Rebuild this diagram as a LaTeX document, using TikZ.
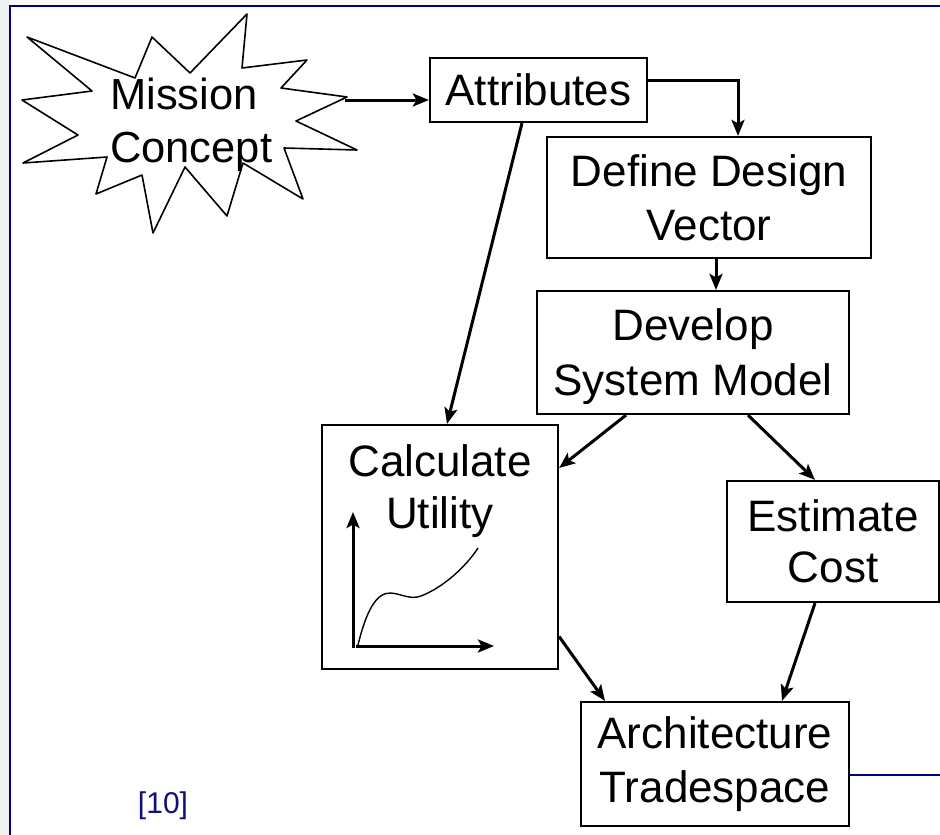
\documentclass[tikz,border=0pt]{standalone}
\usepackage{fontspec}
\setmainfont{Liberation Sans}
\usetikzlibrary{arrows.meta}
\definecolor{navy}{RGB}{0,0,128}
\definecolor{refblue}{RGB}{16,16,120}

\begin{document}
\begin{tikzpicture}[x=1pt,y=-1pt,
  boxline/.style={draw=black, line width=2.2pt, rectangle, inner sep=0pt,
    font=\fontsize{44}{52}\selectfont},
  box/.style={boxline, align=center},
  arr/.style={line width=3pt, -{Stealth[length=16pt,width=13pt,inset=3.5pt]}},
  burst/.style={draw=black, fill=white, line width=1.6pt, line join=round},
  frame/.style={navy, line width=2pt}]

% page, side strip and slide frame
\useasboundingbox (0,0) rectangle (940,835);
\fill[white] (0,0) rectangle (940,835);
\fill[gray!12] (0,0) rectangle (9,835);
\fill[gray!5] (9,0) rectangle (940,5);
\draw[frame, line join=miter] (10,835) -- (10,6) -- (940,6);

% mission concept starburst
\draw[burst] (27,37) -- (135,78) -- (152,37) -- (190,73) -- (247,14) -- (242,68)
  -- (307,60) -- (281,88) -- (347,97) -- (296,121) -- (357,150) -- (284,148)
  -- (303,199) -- (243,163) -- (227,216) -- (185,167) -- (153,233) -- (142,175)
  -- (96,194) -- (107,157) -- (23,163) -- (78,135) -- (22,100) -- (92,91) -- cycle;
\node[font=\fontsize{43.5}{53}\selectfont, align=left, inner sep=0pt, anchor=west]
  (mc) at (110,125) {Mission\\Concept};
\coordinate (mctip) at (345,100);

% process boxes
\node[box, minimum width=217pt, minimum height=64pt] (attr) at (538.5,90) {Attributes};
\node[box, minimum width=324pt, minimum height=121pt, font=\fontsize{44}{54}\selectfont]
  (ddv) at (709,197.5) {Define Design\\Vector};
\node[box, minimum width=312pt, minimum height=123pt, font=\fontsize{44}{55}\selectfont]
  (dsm) at (693,352.5) {Develop\\\smash{System Model}};
\node[boxline, minimum width=236pt, minimum height=244pt] (cu) at (440,547)
  {\begin{minipage}[c][244pt][t]{236pt}\centering\rule{0pt}{51pt}Calculate\\Utility\end{minipage}};
\node[box, minimum width=212pt, minimum height=121pt, font=\fontsize{44}{51}\selectfont]
  (ec) at (833,541.5) {Estimate\\Cost};
\node[box, minimum width=268pt, minimum height=124pt, font=\fontsize{44}{54}\selectfont]
  (at) at (715,764) {Architecture\\Tradespace};

% small utility plot inside the utility box
\draw[arr] (353,648) -- (353,512);
\draw[arr] (356,646) -- (494,646);
\draw[line width=1.4pt] (358,645) .. controls (366,612) and (376,592) .. (391,593)
  .. controls (402,594) and (410,600) .. (421,596)
  .. controls (442,588) and (465,568) .. (478,548);

% connectors
\draw[arr] (mctip) -- (attr.west |- mctip);
\draw[arr] ([yshift=10pt]attr.east) -| ([xshift=29pt]ddv.north);
\draw[arr] (ddv.south -| 716,0) -- (dsm.north -| 716,0);
\draw[arr] ([xshift=-16.5pt]attr.south) -- ([xshift=7pt]cu.north);
\draw[arr] ([xshift=-67pt]dsm.south) -- ([yshift=79pt]cu.east);
\draw[arr] ([xshift=55pt]dsm.south) -- ([xshift=-18pt]ec.north);
\draw[arr] ([yshift=-89.5pt]cu.east) -- ([xshift=-110pt]at.north);
\draw[arr] ([xshift=-18pt]ec.south) -- ([xshift=67pt]at.north);

% frame rule leaving the tradespace box
\coordinate (edge) at (940,775);
\draw[frame] ([yshift=-11pt]at.east) -- (edge);

% citation
\node[text=refblue, font=\fontsize{30}{36}\selectfont, inner sep=0pt] (ref) at (163,806) {[10]};
\end{tikzpicture}
\end{document}
